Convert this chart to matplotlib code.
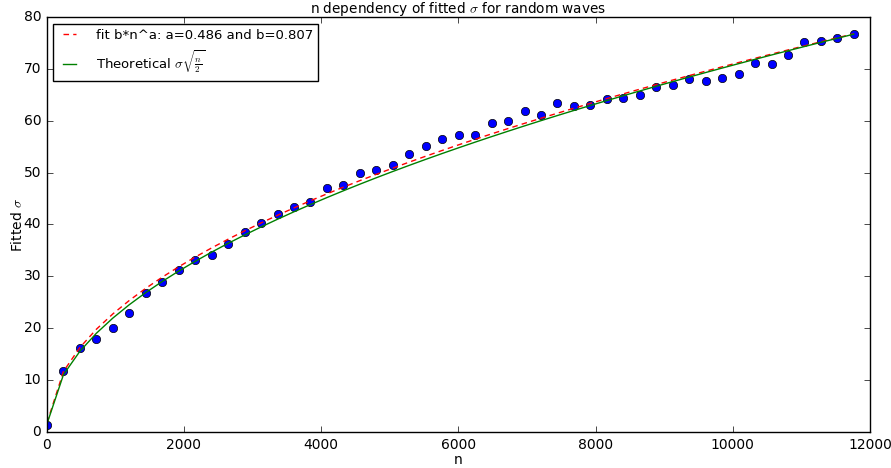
import numpy as np
import matplotlib
matplotlib.use("Agg")
import matplotlib.pyplot as plt

# sample sizes n (step of 240) and fitted sigma
n_values = [5 + 240 * k for k in range(50)]
fitted_sigma = [
    1.35, 11.8, 16.2, 18.0, 20.0, 22.9, 26.7, 29.0, 31.3, 33.1,
    34.1, 36.3, 38.5, 40.2, 42.1, 43.4, 44.4, 47.0, 47.7, 49.9,
    50.5, 51.4, 53.6, 55.2, 56.4, 57.3, 57.2, 59.5, 59.9, 61.9,
    61.1, 63.4, 62.9, 63.1, 64.2, 64.4, 64.9, 66.5, 66.8, 68.0,
    67.7, 68.3, 69.1, 71.2, 71.0, 72.6, 75.1, 75.4, 76.0, 76.8,
]

# power-law fit parameters and unit sigma from the legend
fit_a = 0.486
fit_b = 0.807
sigma = 1.0


def main():
    plt.style.use("classic")
    plt.rcParams.update({"font.size": 10})

    n = np.array(n_values, dtype=float)
    fit_curve = fit_b * n ** fit_a
    theory_curve = sigma * np.sqrt(n / 2.0)

    fig = plt.figure(figsize=(8.91, 4.68), dpi=100)
    ax = fig.add_axes([0.0524, 0.077, 0.924, 0.8866])
    ax.plot(n, fitted_sigma, "bo", markersize=6, label="_nolegend_")
    ax.plot(n, fit_curve, "r--", dashes=(4, 3),
            label=f"fit b*n^a: a={fit_a} and b={fit_b}")
    ax.plot(n, theory_curve, "g-", label=r"Theoretical $\sigma\sqrt{\frac{n}{2}}$")

    ax.set_xlim(0, 12000)
    ax.set_ylim(0, 80)
    ax.set_xlabel("n", labelpad=1)
    ax.set_ylabel(r"Fitted $\sigma$", labelpad=-1)
    ax.set_title(r"n dependency of fitted $\sigma$ for random waves", fontsize=9.8, pad=3)
    ax.legend(loc="upper left", fontsize=9.5, fancybox=False,
              handlelength=1.6, handletextpad=1.2)

    fig.savefig("out.png", dpi=100)


if __name__ == "__main__":
    main()
